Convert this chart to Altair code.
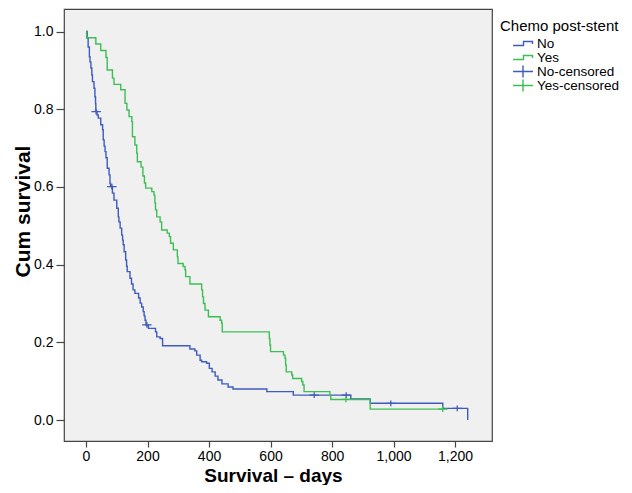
import altair as alt
import pandas as pd

# ---- Kaplan-Meier step data ----
no_days = [0, 4, 7, 11, 13, 16, 19, 21, 26, 29, 31, 32, 36, 40, 48, 54, 56, 59, 62, 65,
           69, 75, 78, 80, 86, 91, 100, 105, 107, 111, 116, 119, 121, 124, 129, 132, 134,
           143, 148, 153, 159, 171, 176, 181, 186, 189, 192, 195, 203, 226, 230, 241, 249,
           338, 354, 360, 371, 376, 392, 401, 410, 420, 429, 442, 462, 478, 588, 674, 861,
           924, 1160, 1241]
no_surv = [1.0, 0.983, 0.960, 0.935, 0.922, 0.906, 0.888, 0.871, 0.854, 0.832, 0.814, 0.794,
           0.785, 0.777, 0.760, 0.747, 0.721, 0.705, 0.691, 0.675, 0.648, 0.631, 0.609, 0.601,
           0.584, 0.566, 0.545, 0.523, 0.510, 0.494, 0.476, 0.463, 0.451, 0.433, 0.412, 0.396,
           0.382, 0.365, 0.350, 0.335, 0.326, 0.314, 0.301, 0.291, 0.279, 0.268, 0.257, 0.245,
           0.236, 0.227, 0.214, 0.210, 0.191, 0.183, 0.178, 0.167, 0.154, 0.150, 0.146, 0.133,
           0.124, 0.113, 0.103, 0.093, 0.085, 0.080, 0.073, 0.064, 0.054, 0.043, 0.030, 0.0]

yes_days = [0, 2, 32, 48, 65, 69, 86, 91, 113, 127, 133, 140, 149, 151, 159, 165, 167, 179,
            185, 190, 194, 214, 221, 224, 226, 230, 241, 246, 264, 271, 275, 284, 297, 299,
            316, 322, 324, 338, 376, 379, 382, 387, 398, 436, 441, 443, 596, 598, 600, 642,
            647, 649, 651, 669, 672, 701, 705, 709, 793, 796, 924, 1160]
yes_surv = [1.0, 0.984, 0.968, 0.951, 0.933, 0.901, 0.880, 0.864, 0.850, 0.815, 0.798, 0.781,
            0.768, 0.729, 0.708, 0.687, 0.665, 0.651, 0.628, 0.610, 0.597, 0.588, 0.579, 0.559,
            0.541, 0.523, 0.510, 0.489, 0.481, 0.472, 0.455, 0.438, 0.420, 0.403, 0.395, 0.386,
            0.369, 0.350, 0.335, 0.317, 0.300, 0.283, 0.266, 0.257, 0.249, 0.227, 0.210, 0.193,
            0.176, 0.167, 0.159, 0.142, 0.124, 0.116, 0.107, 0.099, 0.090, 0.073, 0.063, 0.053,
            0.028, 0.028]

no_cens_days = [33, 84, 198, 742, 846, 991, 1207]
no_cens_surv = [0.794, 0.601, 0.245, 0.064, 0.064, 0.043, 0.030]
yes_cens_days = [845, 1160]
yes_cens_surv = [0.053, 0.028]

groups = ["No", "Yes", "No-censored", "Yes-censored"]
BLUE = "#3E5BBF"
GREEN = "#3DBE55"
colors = [BLUE, GREEN, BLUE, GREEN]
STEP = "M-1,0.2H0.05V-0.2H0.95V0.05"
PLUS = "M-1,0H1M0,-0.6V0.6"
shapes = [STEP, STEP, PLUS, PLUS]

x_ticks = [0, 200, 400, 600, 800, 1000, 1200]
y_ticks = [0.0, 0.2, 0.4, 0.6, 0.8, 1.0]

no_df = pd.DataFrame({"days": no_days, "surv": no_surv})
yes_df = pd.DataFrame({"days": yes_days, "surv": yes_surv})
cens_df = pd.DataFrame({
    "days": no_cens_days + yes_cens_days,
    "surv": no_cens_surv + yes_cens_surv,
    "group": ["No-censored"] * len(no_cens_days) + ["Yes-censored"] * len(yes_cens_days),
})

FONT = "Liberation Sans"

x_enc = alt.X("days:Q",
              scale=alt.Scale(domain=[-71.5, 1320], nice=False, zero=False),
              axis=alt.Axis(values=x_ticks, format=",d", title="Survival – days",
                            titleX=209, titleY=25, titleFontSize=19))
y_enc = alt.Y("surv:Q",
              scale=alt.Scale(domain=[-0.054, 1.058], nice=False, zero=False),
              axis=alt.Axis(values=y_ticks, format=".1f", title="Cum survival",
                            titleX=-31, titleY=202, titleFontSize=21))

no_line = alt.Chart(no_df).mark_line(interpolate="step-after", strokeWidth=1.4, color=BLUE).encode(
    x=x_enc, y=y_enc)
yes_line = alt.Chart(yes_df).mark_line(interpolate="step-after", strokeWidth=1.4, color=GREEN).encode(
    x=x_enc, y=y_enc)


def make_legend():
    return alt.Legend(
        title="Chemo post-stent", orient="none", legendX=436, legendY=10,
        titleFontSize=15, titleFontWeight="normal", titleFont=FONT,
        titleColor="black", titlePadding=3,
        labelFontSize=13.5, labelFont=FONT, labelColor="black",
        symbolSize=400, symbolOffset=12, labelOffset=3,
        clipHeight=13, rowPadding=0, padding=0,
        symbolStrokeWidth=1.4,
    )


cens = alt.Chart(cens_df).mark_point(
    size=90, strokeWidth=1.3, filled=False, opacity=1
).encode(
    x=x_enc, y=y_enc,
    color=alt.Color("group:N", scale=alt.Scale(domain=groups, range=colors), legend=make_legend()),
    shape=alt.Shape("group:N", scale=alt.Scale(domain=groups, range=shapes), legend=make_legend()),
)

chart = alt.layer(no_line, yes_line, cens).properties(
    width=428, height=432,
    padding={"left": 56, "top": 1, "right": 132, "bottom": 44},
    autosize=alt.AutoSizeParams(type="none"),
).configure_view(
    fill="#F0F0F0", stroke="#444444", strokeWidth=1.2
).configure_axis(
    grid=False, domain=False,
    labelFont=FONT, labelColor="black",
    tickColor="#444444", tickWidth=1.2,
    titleFont=FONT, titleFontWeight="bold", titleColor="black",
).configure_axisX(
    tickSize=6, labelPadding=2, labelFontSize=14
).configure_axisY(
    tickSize=8, labelPadding=3, labelFontSize=14
)

chart.save("out.html", embed_options={"renderer": "svg", "actions": False})
